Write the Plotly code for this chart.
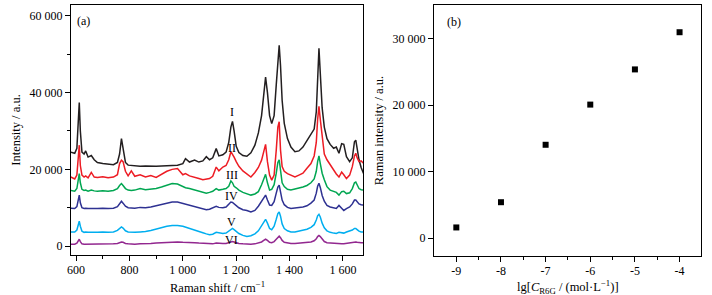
import plotly.graph_objects as go

# ---------------- data: panel (a) Raman spectra ----------------
raman_shift = [
    580, 595, 603, 608, 612, 616, 622, 630, 636, 645,
    657, 668, 680, 700, 720, 740, 755, 763, 770, 776,
    785, 795, 807, 820, 840, 860, 880, 900, 920, 940,
    960, 980, 1000, 1010, 1025, 1044, 1060, 1075, 1088, 1100,
    1112, 1125, 1135, 1150, 1162, 1172, 1180, 1186, 1192, 1200,
    1210, 1225, 1240, 1255, 1270, 1283, 1295, 1303, 1310, 1317,
    1325, 1333, 1342, 1350, 1356, 1361, 1366, 1372, 1380, 1392,
    1405, 1420, 1435, 1450, 1465, 1480, 1492, 1500, 1505, 1510,
    1515, 1522, 1530, 1540, 1552, 1565, 1575, 1585, 1595, 1603,
    1613, 1625, 1635, 1643, 1648, 1653, 1660, 1668, 1677,
]

# intensities in thousands of a.u.
spec_I = [
    24.5, 24.2, 25.5, 31, 37.4, 30, 24.5, 24.0, 24.8, 23.2,
    23.6, 22.5, 21.8, 21.5, 21.3, 21.2, 21.8, 24, 28.0, 25,
    21.8, 21.1, 21.0, 21.0, 20.8, 20.9, 20.8, 20.8, 20.9, 21.0,
    21.0, 21.1, 21.5, 22.8, 21.9, 22.4, 21.9, 22.2, 23.3, 22.5,
    23.0, 25.4, 23.5, 23.8, 24.5, 27, 31, 32.5, 30, 26,
    24.4, 23.6, 23.4, 24.3, 26.3, 29.5, 34, 39, 44, 40,
    34, 31.9, 34, 42, 49, 52.3, 47, 38, 32, 28,
    25.8, 24.6, 24.8, 25.8, 27.5, 29, 30.5, 35, 44, 51.5,
    45, 36, 31, 28, 26.5, 25.5, 25.8, 24.2, 26.7, 26.5,
    23.3, 22.0, 23, 27.2, 27.6, 25.5, 22.5, 20.5, 18.9,
]
spec_II = [
    18.0, 17.5, 18.5, 22, 26.3, 21, 18.5, 18.0, 18.3, 17.8,
    19.2, 18.0, 17.9, 18.1, 17.8, 18.0, 18.6, 21.5, 22.4, 22.0,
    19.5, 18.3, 19.6, 18.2, 18.6, 18.0, 18.4, 17.9, 18.8, 19.5,
    20.0, 20.2, 18.6, 18.9, 18.3, 18.0, 17.6, 17.3, 17.5, 17.6,
    18.2, 20.6, 19.6, 20.6, 21.0, 22.5, 24.6, 24.0, 23.2, 22.0,
    20.8, 19.6, 18.8, 18.0, 19.2, 20.5, 22.4, 24.5, 26.5, 22,
    18.5, 17.2, 18.5, 25, 31, 32.4, 25, 20.7, 19.5, 18.9,
    18.4, 18.0, 18.5, 19.0, 20.3, 21.5, 23.5, 27, 33, 36.4,
    33, 29, 24, 22.5, 21.2, 19.8, 18.8, 18.0, 19.3, 18.6,
    17.6, 18.5, 20.7, 23.5, 24.2, 23, 22.0, 22.2, 21.6,
]
spec_III = [
    14.5, 14.3, 15, 17, 18.9, 16.5, 14.8, 14.5, 14.6, 14.3,
    14.6, 14.4, 14.3, 14.4, 14.3, 14.5, 15.0, 15.8, 16.3, 15.8,
    15.0, 14.6, 14.5, 14.6, 15.0, 14.7, 14.8, 15.0, 15.4, 15.9,
    16.3, 16.2, 15.5, 15.2, 15.0, 14.6, 14.3, 13.9, 13.8, 14.0,
    14.3, 15.0, 14.6, 14.8, 15.0, 15.6, 17.0, 16.5, 15.6, 15.2,
    14.6, 14.0, 13.7, 13.3, 13.6, 14.2, 16.0, 17.5, 18.7, 16.5,
    14.6, 14.8, 16, 19, 21.8, 22.5, 20, 16.5, 15.5, 14.8,
    14.6, 14.8, 15.0, 15.4, 15.8, 16.5, 17.5, 19.5, 22, 23.5,
    21.5, 19, 17.3, 15.5, 14.6, 14.3, 14.0, 13.3, 14.2, 14.3,
    13.7, 13.9, 15.0, 16.5, 16.7, 16.0, 15.0, 14.7, 14.6,
]
spec_IV = [
    9.9, 9.8, 10.3, 12, 13.3, 11.3, 10.0, 9.8, 9.9, 9.8,
    9.9, 9.8, 9.8, 9.9, 9.8, 9.9, 10.3, 11.0, 11.7, 11.2,
    10.4, 10.0, 9.9, 9.9, 10.1, 10.0, 10.2, 10.5, 10.9, 11.3,
    11.5, 11.5, 11.1, 11.0, 10.7, 10.4, 10.0, 9.6, 9.5, 9.6,
    9.9, 10.4, 10.1, 10.0, 10.2, 10.8, 11.5, 11.4, 11.0, 10.6,
    10.0, 9.5, 9.3, 8.9, 9.3, 10.4, 11.6, 12.7, 13.3, 12.0,
    10.7, 10.6, 11.6, 13.8, 15.4, 15.9, 14.5, 12.0, 10.8, 10.1,
    9.8, 9.9, 10.0, 10.2, 10.5, 11.2, 12.0, 13.8, 15.6, 16.4,
    15.3, 13.2, 11.7, 10.6, 10.2, 10.0, 9.8, 10.6, 9.8, 9.3,
    9.8, 10.2, 11.0, 12.0, 12.0, 11.6, 11.0, 10.8, 10.7,
]
spec_V = [
    3.7, 3.7, 4.2, 5.5, 6.5, 5.2, 3.9, 3.6, 3.7, 3.6,
    3.7, 3.6, 3.6, 3.7, 3.6, 3.7, 4.1, 4.6, 5.0, 4.7,
    4.0, 3.7, 3.6, 3.6, 3.7, 3.8, 4.1, 4.5, 4.9, 5.2,
    5.4, 5.4, 5.2, 5.0, 4.7, 4.3, 3.9, 3.5, 3.2, 3.0,
    3.1, 3.6, 3.5, 3.3, 3.4, 3.9, 4.5, 4.6, 4.3, 3.8,
    3.3, 2.8, 2.5, 2.7, 3.2, 4.0, 5.2, 6.3, 7.0, 6.0,
    4.6, 4.3, 5.2, 7.0, 8.5, 8.9, 7.8, 5.8, 4.6, 4.0,
    3.7, 3.7, 3.9, 4.1, 4.4, 4.9, 5.6, 6.8, 7.9, 8.3,
    7.6, 6.0, 4.8, 4.0, 3.6, 3.4, 3.3, 3.6, 3.4, 3.4,
    3.7, 3.9, 4.2, 4.6, 4.6, 4.3, 3.9, 3.7, 3.7,
]
spec_VI = [
    0.5, 0.5, 0.8, 1.4, 1.8, 1.2, 0.6, 0.5, 0.5, 0.5,
    0.6, 0.5, 0.5, 0.5, 0.5, 0.6, 0.7, 0.9, 1.1, 1.0,
    0.7, 0.6, 0.5, 0.5, 0.6, 0.6, 0.7, 0.8, 0.9, 1.0,
    1.1, 1.1, 1.0, 1.0, 0.9, 0.9, 0.8, 0.7, 0.6, 0.6,
    0.6, 0.8, 0.7, 0.7, 0.7, 0.9, 1.1, 1.2, 1.1, 0.9,
    0.7, 0.6, 0.5, 0.5, 0.6, 0.8, 1.1, 1.5, 1.8, 1.5,
    1.0, 0.9, 1.2, 1.8, 2.4, 2.6, 2.2, 1.5, 1.0, 0.8,
    0.7, 0.7, 0.8, 0.8, 0.9, 1.1, 1.4, 1.9, 2.5, 2.8,
    2.5, 1.8, 1.2, 0.9, 0.8, 0.7, 0.6, 0.7, 0.6, 0.6,
    0.7, 0.8, 0.9, 1.1, 1.1, 1.0, 0.9, 0.9, 0.9,
]

spectrum_names = ["I", "II", "III", "IV", "V", "VI"]
label_y = [34900, 25600, 18500, 13100, 6400, 1600]   # where the roman labels sit
label_x = 1183

xa_ticks = [600, 800, 1000, 1200, 1400, 1600]
xa_text = ["600", "800", "1 000", "1 200", "1 400", "1 600"]
ya_ticks = [0, 20000, 40000, 60000]
ya_text = ["0", "20 000", "40 000", "60 000"]

# ---------------- data: panel (b) ----------------
lg_conc = [-9, -8, -7, -6, -5, -4]
peak_intensity = [1600, 5400, 14050, 20100, 25400, 31000]

xb_ticks = [-9, -8, -7, -6, -5, -4]
xb_text = ["-9", "-8", "-7", "-6", "-5", "-4"]
yb_ticks = [0, 10000, 20000, 30000]
yb_text = ["0", "10 000", "20 000", "30 000"]

# ---------------- figure ----------------
W, H = 712, 295
FONT = "Liberation Serif"
colors = ["#231f20", "#ed1c24", "#00a651", "#2e3192", "#00aeef", "#92278f"]
spectra = [spec_I, spec_II, spec_III, spec_IV, spec_V, spec_VI]

fig = go.Figure()
for name, vals, col in zip(spectrum_names, spectra, colors):
    fig.add_trace(go.Scatter(
        x=raman_shift, y=[v * 1000 for v in vals], mode="lines",
        line=dict(color=col, width=1.5), name=name, showlegend=False,
        xaxis="x", yaxis="y"))

fig.add_trace(go.Scatter(
    x=lg_conc, y=peak_intensity, mode="markers",
    marker=dict(symbol="square", size=6, color="black"),
    showlegend=False, xaxis="x2", yaxis="y2"))


def px_x(p):
    return p / W


def px_y(p):
    return 1 - p / H


axis_common = dict(
    showline=True, linecolor="black", linewidth=1.2, mirror=True,
    ticks="outside", tickcolor="black", tickwidth=1.2, ticklen=5,
    showgrid=False, zeroline=False, automargin=False,
    tickfont=dict(family=FONT, size=12, color="black"),
    title_font=dict(family=FONT, size=12.5, color="black"),
)

fig.update_layout(
    width=W, height=H,
    margin=dict(l=0, r=0, t=0, b=0),
    paper_bgcolor="white", plot_bgcolor="white",
    font=dict(family=FONT, size=12, color="black"),
    xaxis=dict(
        domain=[px_x(71), px_x(363)], range=[581, 1675],
        tickmode="array", tickvals=xa_ticks, ticktext=xa_text,
        ticklabelstandoff=-2,
        minor=dict(tickmode="array", tickvals=[700, 900, 1100, 1300, 1500],
                   ticks="outside", ticklen=3, tickcolor="black", tickwidth=1.2),
        anchor="y", **axis_common),
    yaxis=dict(
        domain=[px_y(255), px_y(5)], range=[-2300, 62800],
        tickmode="array", tickvals=ya_ticks, ticktext=ya_text,
        minor=dict(tickmode="array", tickvals=[10000, 30000, 50000],
                   ticks="outside", ticklen=3, tickcolor="black", tickwidth=1.2),
        title=dict(text="Intensity / a.u.", standoff=6),
        anchor="x", **axis_common),
    xaxis2=dict(
        domain=[px_x(434), px_x(701)], range=[-9.5, -3.52],
        tickmode="array", tickvals=xb_ticks, ticktext=xb_text,
        ticklabelstandoff=-2,
        minor=dict(tickmode="array", tickvals=[-8.5, -7.5, -6.5, -5.5, -4.5],
                   ticks="outside", ticklen=3, tickcolor="black", tickwidth=1.2),
        anchor="y2", **axis_common),
    yaxis2=dict(
        domain=[px_y(256), px_y(5)], range=[-2700, 35100],
        tickmode="array", tickvals=yb_ticks, ticktext=yb_text,
        title=dict(text="Raman intensity / a.u.", standoff=6),
        anchor="x2", **axis_common),
)

title_font = dict(family=FONT, size=12.5, color="black")
annotations = [
    dict(text="(a)", x=0.015, y=0.97, xref="x domain", yref="y domain",
         xanchor="left", yanchor="top", showarrow=False,
         font=dict(family=FONT, size=12, color="black")),
    dict(text="(b)", x=0.04, y=0.97, xref="x2 domain", yref="y2 domain",
         xanchor="left", yanchor="top", showarrow=False,
         font=dict(family=FONT, size=12, color="black")),
    dict(text="Raman shift / cm<sup>−1</sup>", x=0.5, y=px_y(297),
         xref="x domain", yref="paper", xanchor="center", yanchor="bottom",
         showarrow=False, font=title_font),
    dict(text="lg[<i>C</i><sub>R6G</sub> / (mol·L<sup>−1</sup>)]", x=0.5, y=px_y(298),
         xref="x2 domain", yref="paper", xanchor="center", yanchor="bottom",
         showarrow=False, font=title_font),
]
for name, ly in zip(spectrum_names, label_y):
    annotations.append(dict(
        text=name, x=label_x, y=ly, xref="x", yref="y", showarrow=False,
        font=dict(family=FONT, size=12, color="black")))
fig.update_layout(annotations=annotations)

fig.write_html(
    "out.html",
    config={"displayModeBar": False},
    post_script="document.body.style.margin='0px';document.body.style.padding='0px';",
)
